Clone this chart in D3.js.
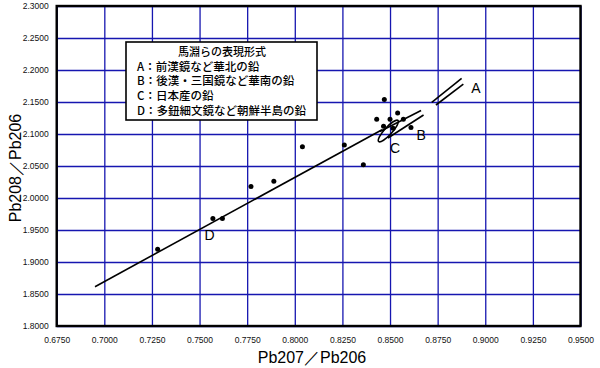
<!DOCTYPE html>
<html><head><meta charset="utf-8">
<script src="https://cdn.jsdelivr.net/npm/d3@7"></script>
<style>
html,body{margin:0;padding:0;background:#fff;}
svg{display:block;}
</style></head>
<body>
<svg id="c" width="600" height="368"></svg>
<script>
// ---- data ----
const xTicks = [0.675, 0.700, 0.725, 0.750, 0.775, 0.800, 0.825, 0.850, 0.875, 0.900, 0.925, 0.950];
const xTickLabels = ["0.6750","0.7000","0.7250","0.7500","0.7750","0.8000","0.8250","0.8500","0.8750","0.9000","0.9250","0.9500"];
const yTicks = [1.80, 1.85, 1.90, 1.95, 2.00, 2.05, 2.10, 2.15, 2.20, 2.25, 2.30];
const yTickLabels = ["1.8000","1.8500","1.9000","1.9500","2.0000","2.0500","2.1000","2.1500","2.2000","2.2500","2.3000"];
const pointX = [0.728, 0.757, 0.762, 0.777, 0.789, 0.804, 0.826, 0.836, 0.847, 0.843, 0.850, 0.854, 0.857, 0.8466, 0.8516, 0.861];
const pointY = [1.920, 1.968, 1.968, 2.018, 2.026, 2.080, 2.083, 2.052, 2.154, 2.123, 2.123, 2.133, 2.123, 2.112, 2.109, 2.110];
const fitX = [0.6951, 0.8458];
const fitY = [1.8614, 2.1067];
const regionA = [[[0.8719, 2.1495],[0.8876, 2.1870]], [[0.8741, 2.1453],[0.8885, 2.1781]]];
const regionB = [[[0.8447, 2.1039],[0.8663, 2.1367]], [[0.8489, 2.0938],[0.8676, 2.1297]]];
const regionC = [[0.8451, 2.0917],[0.8531, 2.1177]];
const labelNames = ["A","B","C","D"];
const labelX = [0.8951, 0.8663, 0.8526, 0.7552];
const labelY = [2.1719, 2.0984, 2.0789, 1.9422];
const legendTitle = "馬淵らの表現形式";
const legendItems = ["A：前漢鏡など華北の鉛", "B：後漢・三国鏡など華南の鉛", "C：日本産の鉛", "D：多鈕細文鏡など朝鮮半島の鉛"];
const xTitle = "Pb207／Pb206";
const yTitle = "Pb208／Pb206";

// ---- layout ----
const L = 56.7, R = 580.5, T = 6, B = 326;
const svg = d3.select("#c");
const x = d3.scaleLinear().domain([0.675, 0.95]).range([L, R]);
const y = d3.scaleLinear().domain([1.8, 2.3]).range([B, T]);
const grid = "#1616b0";
const tickFont = "'Liberation Sans', Arial, sans-serif";

const gx = svg.append("g").attr("transform", `translate(0,${B})`)
  .call(d3.axisBottom(x).tickValues(xTicks).tickFormat((d,i)=>xTickLabels[i]).tickSize(-(B-T)).tickPadding(11));
gx.select(".domain").remove();
gx.selectAll("line").attr("stroke", grid).attr("stroke-width", 1.3);
gx.selectAll("text").attr("font-family", tickFont).attr("font-size", 8.5).attr("fill", "#111");

const gy = svg.append("g").attr("transform", `translate(${L},0)`)
  .call(d3.axisLeft(y).tickValues(yTicks).tickFormat((d,i)=>yTickLabels[i]).tickSize(-(R-L)).tickPadding(8));
gy.select(".domain").remove();
gy.selectAll("line").attr("stroke", grid).attr("stroke-width", 1.3);
gy.selectAll("text").attr("font-family", tickFont).attr("font-size", 8.5).attr("fill", "#111");

// frame
svg.append("rect").attr("x", L).attr("y", T).attr("width", R-L).attr("height", B-T)
  .attr("fill", "none").attr("stroke", "#000").attr("stroke-width", 2.4);

// fit line
svg.append("line").attr("x1", x(fitX[0])).attr("y1", y(fitY[0])).attr("x2", x(fitX[1])).attr("y2", y(fitY[1]))
  .attr("stroke", "#000").attr("stroke-width", 1.6);

// regions A, B
[...regionA, ...regionB].forEach(s => {
  svg.append("line").attr("x1", x(s[0][0])).attr("y1", y(s[0][1])).attr("x2", x(s[1][0])).attr("y2", y(s[1][1]))
    .attr("stroke", "#000").attr("stroke-width", 1.6);
});
// region C ellipse
{
  const x1 = x(regionC[0][0]), y1 = y(regionC[0][1]), x2 = x(regionC[1][0]), y2 = y(regionC[1][1]);
  const cx = (x1+x2)/2, cy = (y1+y2)/2;
  const len = Math.hypot(x2-x1, y2-y1);
  const ang = Math.atan2(y2-y1, x2-x1) * 180 / Math.PI;
  svg.append("ellipse").attr("cx", cx).attr("cy", cy).attr("rx", len/2 + 3).attr("ry", 3.8)
    .attr("transform", `rotate(${ang},${cx},${cy})`)
    .attr("fill", "none").attr("stroke", "#000").attr("stroke-width", 1.6);
}

// points
svg.append("g").selectAll("circle").data(pointX).join("circle")
  .attr("cx", d => x(d)).attr("cy", (d,i) => y(pointY[i])).attr("r", 2.5).attr("fill", "#000");

// region labels
svg.append("g").selectAll("text").data(labelNames).join("text")
  .attr("x", (d,i) => x(labelX[i])).attr("y", (d,i) => y(labelY[i]))
  .attr("text-anchor", "middle").attr("dominant-baseline", "central")
  .attr("font-family", tickFont).attr("font-size", 14).attr("fill", "#000").text(d => d);

// legend
const lg = svg.append("g");
lg.append("rect").attr("x", 126).attr("y", 42).attr("width", 191).attr("height", 78)
  .attr("fill", "#fff").attr("stroke", "#000").attr("stroke-width", 1.6);
const cjk = "'Noto Sans CJK JP', 'Noto Sans', sans-serif";
lg.append("text").attr("x", 222).attr("y", 56).attr("text-anchor", "middle")
  .attr("font-family", cjk).attr("font-size", 11).attr("font-weight", 500).text(legendTitle);
lg.selectAll("text.item").data(legendItems).join("text").attr("class", "item")
  .attr("x", 137).attr("y", (d,i) => 70.5 + i*14.8)
  .attr("font-family", cjk).attr("font-size", 11.5).attr("font-weight", 500).text(d => d);

// axis titles
svg.append("text").attr("x", 312).attr("y", 363).attr("text-anchor", "middle")
  .attr("font-family", tickFont).attr("font-size", 16).text(xTitle);
svg.append("text").attr("transform", "translate(21,168) rotate(-90)").attr("text-anchor", "middle")
  .attr("font-family", tickFont).attr("font-size", 16).text(yTitle);
</script>
</body></html>
